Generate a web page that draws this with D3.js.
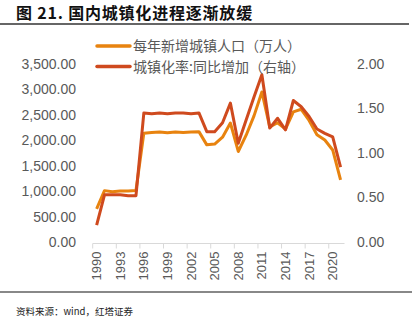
<!DOCTYPE html>
<html><head><meta charset="utf-8">
<script src="https://cdn.jsdelivr.net/npm/d3@7/dist/d3.min.js"></script>
<style>body{margin:0;background:#fff;} svg{display:block;}</style>
</head><body>
<svg id="c" width="415" height="327"></svg>
<script>
const years = d3.range(1990, 2022);
const newUrbanPop = [650,1010,990,1005,1005,1015,2140,2155,2165,2150,2165,2155,2165,2170,1910,1925,2060,2340,1780,2100,2480,2950,2265,2345,2220,2560,2610,2390,2110,2005,1810,1220];
const urbanRateInc = [0.19,0.53,0.53,0.53,0.52,0.52,1.45,1.44,1.45,1.44,1.45,1.45,1.44,1.45,1.24,1.24,1.34,1.56,1.11,1.37,1.63,1.88,1.28,1.39,1.26,1.59,1.52,1.41,1.27,1.22,1.18,0.84];
const leftTicks = [0,500,1000,1500,2000,2500,3000,3500];
const rightTicks = [0,0.5,1,1.5,2];
const xTickYears = [1990,1993,1996,1999,2002,2005,2008,2011,2014,2017,2020];
const seriesNames = ["每年新增城镇人口（万人）","城镇化率:同比增加（右轴）"];
const title = "图 21. 国内城镇化进程逐渐放缓";
const source = "资料来源：wind，红塔证券";

const svg = d3.select("#c");
const cjk = "'Noto Sans CJK SC', 'Noto Sans', sans-serif";
const num = "'Liberation Sans', Arial, sans-serif";
const C1 = "#E8830F", C2 = "#CF4A1E";

// title
svg.append("text").attr("x",16).attr("y",19).attr("font-family",cjk).attr("font-weight","bold")
  .attr("font-size",16).attr("letter-spacing",0.8).attr("fill","#111").text(title);
svg.append("line").attr("x1",0).attr("x2",409).attr("y1",24).attr("y2",24).attr("stroke","#333").attr("stroke-width",1.3);
svg.append("line").attr("x1",0).attr("x2",412).attr("y1",292).attr("y2",292).attr("stroke","#888").attr("stroke-width",2);
svg.append("text").attr("x",16).attr("y",314.5).attr("font-family",cjk).attr("font-size",9.5)
  .attr("fill","#222").text(source);

const x = d3.scaleBand().domain(years).range([92.7,344.5]).padding(0);
const yL = d3.scaleLinear().domain([0,3500]).range([242,64]);
const yR = d3.scaleLinear().domain([0,2]).range([242,64]);

// left axis
const gl = svg.append("g").attr("transform","translate(76,0)")
  .call(d3.axisLeft(yL).tickValues(leftTicks).tickFormat(d3.format(",.2f")).tickSize(0).tickPadding(0));
gl.select(".domain").remove();
gl.selectAll("text").attr("font-family",num).attr("font-size",14).attr("fill","#595959");

const gr = svg.append("g").attr("transform","translate(357,0)")
  .call(d3.axisRight(yR).tickValues(rightTicks).tickFormat(d3.format(".2f")).tickSize(0).tickPadding(0));
gr.select(".domain").remove();
gr.selectAll("text").attr("font-family",num).attr("font-size",14).attr("fill","#595959");

// x axis
const gx = svg.append("g").attr("transform","translate(0,243.5)");
gx.append("line").attr("x1",x.range()[0]).attr("x2",x.range()[1]).attr("stroke","#d9d9d9");
gx.selectAll("line.t").data(xTickYears).join("line").attr("class","t")
  .attr("x1",d=>x(d)).attr("x2",d=>x(d)).attr("y1",0).attr("y2",5).attr("stroke","#d9d9d9");
gx.selectAll("text").data(xTickYears).join("text")
  .attr("transform",d=>`translate(${x(d)+x.bandwidth()/2},8) rotate(-90)`)
  .attr("text-anchor","end").attr("dy","0.35em")
  .attr("font-family",num).attr("font-size",13).attr("fill","#595959").text(d=>d);

const cx = d => x(d) + x.bandwidth()/2;
const l1 = d3.line().x((d,i)=>cx(years[i])).y(d=>yL(d));
const l2 = d3.line().x((d,i)=>cx(years[i])).y(d=>yR(d));
svg.append("path").attr("d",l1(newUrbanPop)).attr("fill","none").attr("stroke",C1).attr("stroke-width",3).attr("stroke-linejoin","round");
svg.append("path").attr("d",l2(urbanRateInc)).attr("fill","none").attr("stroke",C2).attr("stroke-width",3).attr("stroke-linejoin","round");

// legend
[[C1,46],[C2,66.5]].forEach(([c,yy],i)=>{
  svg.append("line").attr("x1",97).attr("x2",130).attr("y1",yy).attr("y2",yy).attr("stroke",c).attr("stroke-width",3.5).attr("stroke-linecap","round");
  svg.append("text").attr("x",133).attr("y",yy).attr("dy","0.36em").attr("font-family",cjk)
    .attr("font-size",14).attr("fill","#595959").text(seriesNames[i]);
});
</script>
</body></html>
